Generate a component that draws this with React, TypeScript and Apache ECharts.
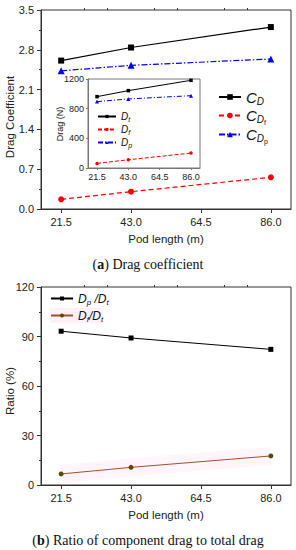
import React, { useEffect, useRef } from "react";
import * as echarts from "echarts";

const xTicks = [21.5, 43.0, 64.5, 86.0];
const xMinorTicks = [14.33, 28.67, 35.83, 50.17, 57.33, 71.67, 78.83];
const sampledLength = [21.5, 43.0, 86.0];

// (a) drag coefficients
const cD = [2.61, 2.84, 3.2];
const cDf = [0.17, 0.305, 0.557];
const cDp = [2.43, 2.527, 2.638];

// (a) inset drag (N)
const dragT = [962, 1043, 1182];
const dragF = [62, 111, 201];
const dragP = [895, 931, 975];

// (b) ratios (%)
const ratioP = [93.2, 89.1, 82.2];
const ratioF = [6.7, 10.7, 17.6];

const FONT = "'Liberation Sans', Arial, sans-serif";
const AXIS_COLOR = "#333";

const pairs = (ys: number[]) => sampledLength.map((x, i) => [x, ys[i]]);

export default function App() {
  const ref = useRef<HTMLDivElement>(null);
  useEffect(() => {
    if (!ref.current) return;
    const chart = echarts.init(ref.current, undefined, { renderer: "svg" });

    const mainX = (gridIndex: number, labelSize: number, margin: number, name?: string) => ({
      type: "value",
      gridIndex,
      min: 15.3,
      max: 92.2,
      name: name || "",
      nameLocation: "middle",
      nameGap: 24,
      nameTextStyle: { fontFamily: FONT, fontSize: 11.5, color: "#222" },
      axisLine: { show: true, lineStyle: { color: AXIS_COLOR, width: 1 } },
      axisTick: { show: true, length: 4, customValues: xTicks, lineStyle: { color: AXIS_COLOR } },
      axisLabel: {
        customValues: xTicks,
        margin,
        fontFamily: FONT,
        fontSize: labelSize,
        color: "#222",
        formatter: (v: number) => v.toFixed(1),
      },
      splitLine: { show: false },
    });
    const minorX = (gridIndex: number, len: number) => ({
      type: "value",
      gridIndex,
      min: 15.3,
      max: 92.2,
      axisLine: { show: false },
      axisTick: { show: true, length: len, customValues: xMinorTicks, lineStyle: { color: AXIS_COLOR } },
      axisLabel: { show: false },
      splitLine: { show: false },
    });

    const legendBase = {
      orient: "vertical",
      padding: 0,
      itemGap: 0,
      textStyle: { fontFamily: FONT, color: "#111" },
    };

    const bigRich = {
      i: { fontFamily: FONT, fontSize: 15, fontStyle: "italic", lineHeight: 18, color: "#111" },
      s: { fontFamily: FONT, fontSize: 10, fontStyle: "italic", lineHeight: 10, padding: [8, 0, 0, 0], color: "#111" },
      ss: { fontFamily: FONT, fontSize: 7, lineHeight: 7, padding: [14, 0, 0, 0], color: "#111" },
    };
    const smallRich = {
      i: { fontFamily: FONT, fontSize: 10, fontStyle: "italic", lineHeight: 12, color: "#111" },
      s: { fontFamily: FONT, fontSize: 7, fontStyle: "italic", lineHeight: 7, padding: [6, 0, 0, 0], color: "#111" },
    };
    const midRich = {
      i: { fontFamily: FONT, fontSize: 12, fontStyle: "italic", lineHeight: 14, color: "#111" },
      s: { fontFamily: FONT, fontSize: 8, fontStyle: "italic", lineHeight: 8, padding: [7, 0, 0, 0], color: "#111" },
    };

    const labelMap: Record<string, string> = {
      CD: "{i|C}{s|D}",
      CDf: "{i|C}{s|D}{ss|f}",
      CDp: "{i|C}{s|D}{ss|p}",
      Dt: "{i|D}{s|t}",
      Df: "{i|D}{s|f}",
      Dp: "{i|D}{s|p}",
      DpDt: "{i|D}{s|p}{i| /D}{s|t}",
      DfDt: "{i|D}{s|f}{i|/D}{s|t}",
    };
    const fmt = (n: string) => labelMap[n] || n;

    const captionStyle = {
      fontFamily: "'Liberation Serif', 'Times New Roman', serif",
      fontSize: 14,
      fontWeight: "normal",
      color: "#111",
      rich: { b: { fontFamily: "'Liberation Serif', serif", fontSize: 14, fontWeight: "bold", color: "#111" } },
    };

    const vName = (text: string, x: number, y: number, size: number) => ({
      type: "text",
      x,
      y,
      rotation: Math.PI / 2,
      z: 10,
      style: {
        text,
        fontFamily: FONT,
        fontSize: size,
        fill: "#222",
        textAlign: "center",
        textVerticalAlign: "middle",
        align: "center",
        verticalAlign: "middle",
      },
    });

    const gridBase = { show: true, borderWidth: 1, outerBoundsMode: "none", containLabel: false };

    const option: any = {
      animation: false,
      backgroundColor: "#fff",
      title: [
        { text: "({b|a}) Drag coefficient", left: "center", top: 252, textStyle: captionStyle },
        { text: "({b|b}) Ratio of component drag to total drag", left: "center", top: 528, textStyle: captionStyle },
      ],
      graphic: [
        vName("Drag Coefficient", 10, 117, 11.5),
        vName("Drag (N)", 60, 124, 9),
        vName("Ratio (%)", 10, 391, 11.5),
      ],
      grid: [
        { ...gridBase, left: 41, top: 10, width: 250, height: 199, borderColor: AXIS_COLOR, backgroundColor: "transparent" },
        { ...gridBase, left: 88, top: 79, width: 112, height: 89, borderColor: "#777", backgroundColor: "#fff", z: 3 },
        { ...gridBase, left: 41, top: 287, width: 250, height: 198, borderColor: AXIS_COLOR, backgroundColor: "transparent" },
      ],
      xAxis: [
        mainX(0, 11, 7, "Pod length (m)"),
        minorX(0, 2),
        {
          ...mainX(1, 9, 4),
          z: 4,
          axisLine: { show: true, lineStyle: { color: "#777", width: 1 } },
          axisTick: { show: true, length: 2, customValues: xTicks, lineStyle: { color: "#777" } },
        },
        mainX(2, 11, 7, "Pod length (m)"),
        minorX(2, 2),
      ],
      yAxis: [
        {
          type: "value",
          gridIndex: 0,
          min: 0,
          max: 3.5,
          interval: 0.7,
          axisLine: { show: true, lineStyle: { color: AXIS_COLOR } },
          axisTick: { show: true, length: 4, lineStyle: { color: AXIS_COLOR } },
          minorTick: { show: true, splitNumber: 2, length: 2, lineStyle: { color: AXIS_COLOR } },
          axisLabel: { fontFamily: FONT, fontSize: 11, color: "#222", margin: 7, formatter: (v: number) => v.toFixed(1) },
          splitLine: { show: false },
        },
        {
          type: "value",
          gridIndex: 1,
          min: 0,
          max: 1200,
          interval: 400,
          z: 4,
          axisLine: { show: true, lineStyle: { color: "#777" } },
          axisTick: { show: true, length: 2, lineStyle: { color: "#777" } },
          axisLabel: { fontFamily: FONT, fontSize: 9, color: "#222", margin: 4, formatter: (v: number) => String(v) },
          splitLine: { show: false },
        },
        {
          type: "value",
          gridIndex: 2,
          min: 0,
          max: 120,
          interval: 30,
          axisLine: { show: true, lineStyle: { color: AXIS_COLOR } },
          axisTick: { show: true, length: 4, lineStyle: { color: AXIS_COLOR } },
          minorTick: { show: true, splitNumber: 2, length: 2, lineStyle: { color: AXIS_COLOR } },
          axisLabel: { fontFamily: FONT, fontSize: 11, color: "#222", margin: 7 },
          splitLine: { show: false },
        },
      ],
      legend: [
        { ...legendBase, data: ["CD"], left: 218, top: 88, itemWidth: 22, itemHeight: 7, formatter: fmt, textStyle: { ...legendBase.textStyle, rich: bigRich } },
        { ...legendBase, data: ["CDf"], left: 218, top: 105, itemWidth: 22, itemHeight: 7, formatter: fmt, textStyle: { ...legendBase.textStyle, rich: bigRich } },
        { ...legendBase, data: ["CDp"], left: 218, top: 124, itemWidth: 22, itemHeight: 7, formatter: fmt, textStyle: { ...legendBase.textStyle, rich: bigRich } },
        { ...legendBase, data: ["Dt"], left: 97, top: 110, itemWidth: 18, itemHeight: 4, z: 5, formatter: fmt, textStyle: { ...legendBase.textStyle, rich: smallRich } },
        { ...legendBase, data: ["Df"], left: 97, top: 123, itemWidth: 18, itemHeight: 4, z: 5, formatter: fmt, textStyle: { ...legendBase.textStyle, rich: smallRich } },
        { ...legendBase, data: ["Dp"], left: 97, top: 136, itemWidth: 18, itemHeight: 4, z: 5, formatter: fmt, textStyle: { ...legendBase.textStyle, rich: smallRich } },
        { ...legendBase, data: ["DpDt"], left: 50, top: 291, itemWidth: 22, itemHeight: 5, formatter: fmt, textStyle: { ...legendBase.textStyle, rich: midRich } },
        { ...legendBase, data: ["DfDt"], left: 50, top: 308, itemWidth: 22, itemHeight: 5, formatter: fmt, backgroundColor: "rgba(255,190,220,0.22)", textStyle: { ...legendBase.textStyle, rich: midRich } },
      ],
      series: [
        {
          name: "CD", type: "line", xAxisIndex: 0, yAxisIndex: 0, data: pairs(cD),
          symbol: "rect", symbolSize: 6, itemStyle: { color: "#000" }, lineStyle: { color: "#000", width: 1.2 },
        },
        {
          name: "CDf", type: "line", xAxisIndex: 0, yAxisIndex: 0, data: pairs(cDf),
          symbol: "circle", symbolSize: 6, itemStyle: { color: "#ff0000" }, lineStyle: { color: "#ff0000", width: 1.2, type: [5, 3] },
        },
        {
          name: "CDp", type: "line", xAxisIndex: 0, yAxisIndex: 0, data: pairs(cDp),
          symbol: "triangle", symbolSize: 7, itemStyle: { color: "#0000ff" }, lineStyle: { color: "#0000ff", width: 1.2, type: [6, 2, 1.5, 2] },
        },
        {
          name: "Dt", type: "line", xAxisIndex: 2, yAxisIndex: 1, data: pairs(dragT), z: 6,
          symbol: "rect", symbolSize: 3.5, itemStyle: { color: "#000" }, lineStyle: { color: "#000", width: 1 },
        },
        {
          name: "Df", type: "line", xAxisIndex: 2, yAxisIndex: 1, data: pairs(dragF), z: 6,
          symbol: "circle", symbolSize: 3.5, itemStyle: { color: "#ff0000" }, lineStyle: { color: "#ff0000", width: 1, type: [4, 2] },
        },
        {
          name: "Dp", type: "line", xAxisIndex: 2, yAxisIndex: 1, data: pairs(dragP), z: 6,
          symbol: "triangle", symbolSize: 4, itemStyle: { color: "#0000ff" }, lineStyle: { color: "#0000ff", width: 1, type: [5, 2, 1, 2] },
        },
        {
          name: "band", type: "line", xAxisIndex: 3, yAxisIndex: 2, data: pairs(ratioF), silent: true,
          symbol: "none", lineStyle: { color: "rgba(255,170,215,0.12)", width: 18 }, z: 1,
        },
        {
          name: "DpDt", type: "line", xAxisIndex: 3, yAxisIndex: 2, data: pairs(ratioP),
          symbol: "rect", symbolSize: 5, itemStyle: { color: "#000" }, lineStyle: { color: "#000", width: 1 },
        },
        {
          name: "DfDt", type: "line", xAxisIndex: 3, yAxisIndex: 2, data: pairs(ratioF),
          symbol: "circle", symbolSize: 5, itemStyle: { color: "#5a4a0a" }, lineStyle: { color: "#a0522d", width: 1 },
        },
      ],
    };
    chart.setOption(option);
    return () => chart.dispose();
  }, []);

  return (
    <div
      ref={ref}
      style={{ position: "fixed", left: 0, top: 0, width: 296, height: 550, background: "#fff" }}
    />
  );
}
